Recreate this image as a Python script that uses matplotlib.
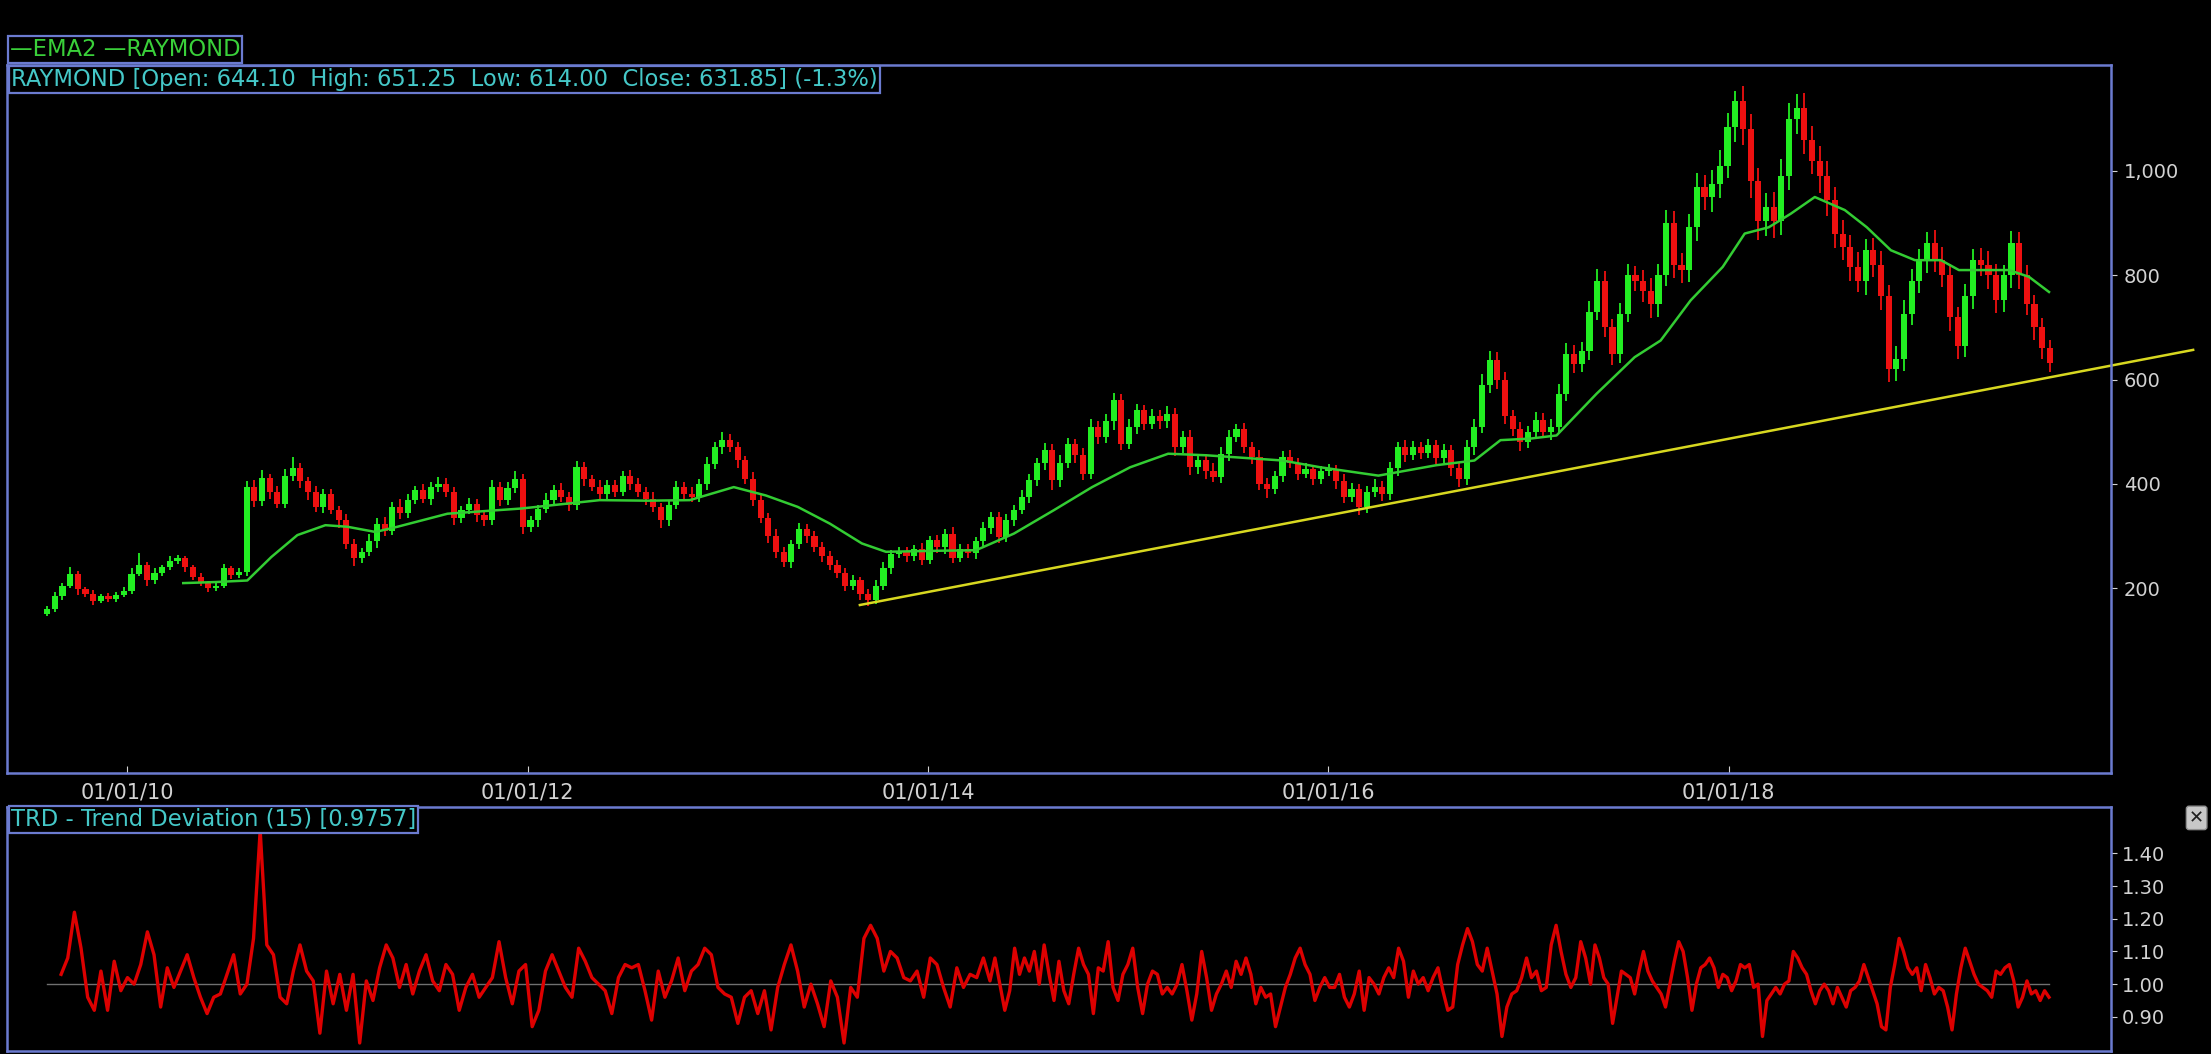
import numpy as np
import matplotlib
matplotlib.use("Agg")
from matplotlib import pyplot as plt

# biweekly closes of RAYMOND (first bar ~ Aug 2009)
close = [160, 185, 205, 228, 198, 190, 176, 185, 180, 188, 195, 228, 245, 215, 230, 240, 252, 258, 240, 222, 210, 200, 205, 238, 225, 232,
         395, 368, 412, 385, 362, 415, 430, 405, 385, 356, 381, 350, 330, 285, 258, 270, 290, 324, 310, 356, 345, 370, 388, 372, 394, 400,
         385, 335, 350, 362, 340, 330, 394, 370, 392, 410, 318, 330, 352, 370, 388, 375, 360, 432, 410, 395, 380, 398, 385, 416, 400, 385,
         372, 355, 330, 360, 394, 380, 375, 400, 439, 470, 484, 470, 445, 410, 370, 335, 300, 270, 250, 285, 314, 300, 280, 262, 245, 230,
         205, 215, 190, 177, 205, 238, 266, 270, 262, 275, 254, 292, 280, 305, 258, 275, 268, 290, 315, 337, 298, 330, 350, 375, 407, 440,
         465, 407, 440, 477, 455, 420, 509, 490, 520, 560, 477, 510, 541, 515, 530, 520, 535, 470, 490, 432, 445, 425, 413, 458, 490, 505,
         470, 452, 400, 390, 415, 452, 440, 420, 428, 410, 425, 426, 405, 375, 390, 356, 385, 395, 380, 430, 471, 455, 470, 460, 475, 450,
         465, 430, 410, 470, 509, 590, 637, 600, 530, 505, 480, 500, 522, 500, 510, 573, 650, 630, 655, 730, 790, 701, 650, 726, 800, 790,
         770, 745, 800, 900, 820, 810, 892, 969, 950, 975, 1010, 1084, 1135, 1080, 980, 905, 930, 905, 990, 1100, 1120, 1060, 1020, 990, 944, 880,
         854, 816, 790, 848, 820, 760, 620, 640, 726, 790, 830, 861, 830, 800, 720, 665, 760, 829, 820, 800, 752, 800, 861, 800, 745, 700,
         660, 632]
# wick lengths above the body top and below the body bottom
wick_up = [6, 8, 5, 12, 6, 4, 7, 5, 6, 4, 8, 10, 22, 6, 8, 5, 9, 6, 4, 5, 7, 4, 6, 8, 5, 6,
           10, 12, 15, 8, 12, 14, 22, 10, 8, 12, 9, 10, 8, 12, 10, 8, 14, 10, 12, 9, 15, 10, 8, 12, 10, 14,
           12, 10, 8, 12, 10, 9, 14, 10, 12, 15, 10, 9, 8, 12, 10, 14, 9, 12, 10, 8, 12, 10, 9, 8, 10, 12,
           10, 12, 9, 8, 12, 10, 14, 9, 12, 10, 15, 12, 10, 8, 12, 10, 9, 14, 10, 8, 12, 9, 10, 8, 9, 10,
           8, 10, 7, 9, 10, 12, 8, 9, 10, 8, 12, 9, 10, 8, 12, 9, 10, 8, 12, 10, 9, 12, 10, 14, 12, 10,
           14, 12, 15, 12, 10, 14, 16, 12, 14, 14, 12, 14, 12, 10, 14, 12, 15, 10, 12, 14, 10, 12, 15, 12, 14, 10,
           12, 10, 14, 12, 10, 12, 14, 10, 12, 9, 10, 12, 10, 14, 12, 10, 12, 14, 10, 12, 10, 14, 12, 10, 12, 10,
           12, 10, 12, 14, 16, 20, 18, 16, 14, 12, 14, 12, 16, 14, 15, 18, 20, 16, 18, 20, 22, 18, 16, 20, 22, 18,
           20, 24, 22, 26, 24, 22, 25, 28, 24, 26, 30, 28, 18, 28, 30, 26, 28, 30, 32, 30, 28, 30, 26, 28, 30, 26,
           26, 24, 28, 22, 24, 26, 22, 24, 26, 22, 20, 22, 26, 24, 22, 20, 24, 22, 24, 26, 22, 20, 24, 22, 20, 18, 18, 16]
wick_dn = [4, 6, 8, 5, 10, 6, 8, 5, 7, 6, 4, 6, 5, 10, 6, 7, 5, 6, 8, 6, 5, 7, 6, 5, 8, 6,
           8, 12, 10, 14, 9, 8, 10, 12, 15, 10, 12, 8, 14, 10, 16, 9, 8, 12, 10, 8, 12, 10, 9, 8, 12, 10,
           10, 14, 9, 8, 12, 10, 8, 12, 10, 9, 14, 10, 12, 8, 10, 9, 12, 10, 14, 9, 8, 12, 10, 9, 12, 10,
           12, 9, 14, 10, 8, 12, 10, 9, 12, 10, 12, 9, 14, 10, 12, 9, 14, 12, 10, 12, 9, 14, 10, 12, 9, 10,
           10, 8, 12, 10, 7, 9, 10, 8, 12, 9, 10, 8, 12, 14, 9, 8, 10, 12, 9, 10, 12, 9, 10, 8, 12, 10,
           14, 18, 12, 10, 14, 12, 10, 14, 12, 16, 12, 10, 14, 12, 10, 14, 12, 16, 10, 14, 12, 16, 10, 12, 14, 10,
           10, 14, 12, 16, 10, 12, 10, 12, 9, 12, 10, 10, 14, 12, 10, 16, 12, 10, 12, 10, 14, 12, 10, 12, 10, 12,
           10, 14, 16, 12, 14, 12, 16, 18, 16, 14, 16, 12, 14, 12, 16, 12, 14, 18, 16, 18, 16, 20, 22, 18, 16, 20,
           22, 26, 24, 20, 26, 24, 22, 26, 24, 28, 26, 24, 28, 30, 32, 38, 30, 34, 28, 26, 30, 28, 26, 32, 30, 28,
           24, 26, 22, 28, 24, 26, 24, 22, 24, 22, 24, 26, 24, 22, 26, 26, 22, 24, 22, 26, 24, 22, 24, 26, 22, 24, 20, 18]
first_open = 150
bar_start = 2009.60
bar_step = 14 / 365.25

# EMA line (decimal year, value)
ema_t = [2010.28, 2010.44, 2010.60, 2010.72, 2010.85, 2010.99, 2011.10, 2011.24, 2011.35, 2011.60, 2011.97, 2012.36, 2012.60,
         2012.81, 2013.03, 2013.19, 2013.35, 2013.51, 2013.67, 2013.79, 2014.05, 2014.24, 2014.43, 2014.63, 2014.82, 2015.01,
         2015.20, 2015.39, 2015.58, 2015.77, 2015.96, 2016.25, 2016.54, 2016.73, 2016.86, 2017.01, 2017.14, 2017.34, 2017.53,
         2017.66, 2017.81, 2017.97, 2018.08, 2018.20, 2018.31, 2018.43, 2018.58, 2018.69, 2018.81, 2018.93, 2019.06, 2019.15,
         2019.40, 2019.50, 2019.60]
ema_v = [210, 212, 215, 260, 302, 321, 318, 308, 318, 343, 353, 369, 368,
         369, 394, 378, 356, 324, 286, 270, 272, 273, 305, 350, 394, 432,
         458, 455, 450, 445, 432, 416, 436, 445, 484, 487, 493, 573, 643,
         675, 752, 816, 880, 892, 918, 950, 925, 892, 848, 829, 829, 810,
         810, 797, 768]

trend_t = [2013.66, 2020.32]
trend_v = [168, 657]

# TRD - Trend Deviation (15), three stretches of the chart
trd_bounds = [2009.67, 2014.31, 2017.31, 2019.60]
trd_a = [1.03, 1.08, 1.22, 1.11, 0.96, 0.92, 1.04, 0.92, 1.07, 0.98, 1.02, 1.00, 1.06, 1.16, 1.09, 0.93, 1.05, 0.99, 1.04, 1.09,
         1.02, 0.96, 0.91, 0.96, 0.97, 1.03, 1.09, 0.97, 1.00, 1.14, 1.47, 1.12, 1.09, 0.96, 0.94, 1.04, 1.12, 1.04, 1.01, 0.85,
         1.04, 0.94, 1.03, 0.92, 1.03, 0.82, 1.01, 0.95, 1.05, 1.12, 1.08, 0.99, 1.06, 0.97, 1.04, 1.09, 1.01, 0.98, 1.06, 1.03,
         0.92, 0.99, 1.03, 0.96, 0.99, 1.02, 1.13, 1.02, 0.94, 1.04, 1.06, 0.87, 0.92, 1.04, 1.09, 1.04, 0.99, 0.96, 1.11, 1.07,
         1.02, 1.00, 0.98, 0.91, 1.02, 1.06, 1.05, 1.06, 0.98, 0.89, 1.04, 0.96, 1.01, 1.08, 0.98, 1.04, 1.06, 1.11, 1.09, 0.99,
         0.97, 0.96, 0.88, 0.96, 0.98, 0.91, 0.98, 0.86, 0.99, 1.06, 1.12, 1.04, 0.93, 1.00, 0.94, 0.87, 1.01, 0.96, 0.82, 0.99,
         0.96, 1.14, 1.18, 1.14, 1.04, 1.10, 1.08, 1.02, 1.01, 1.04, 0.96, 1.08, 1.06, 0.99, 0.93, 1.05, 0.99, 1.03, 1.02, 1.08]
trd_b = [1.01, 1.08, 1.00, 0.92, 0.98, 1.11, 1.03, 1.08, 1.04, 1.10, 1.00, 1.12, 1.03, 0.95, 1.07, 0.98, 0.94, 1.03, 1.11, 1.06,
         1.03, 0.91, 1.05, 1.04, 1.13, 0.99, 0.95, 1.03, 1.06, 1.11, 0.99, 0.91, 1.00, 1.04, 1.03, 0.97, 0.99, 0.97, 1.00, 1.06,
         0.98, 0.89, 0.97, 1.10, 1.02, 0.92, 0.97, 1.00, 1.04, 0.99, 1.07, 1.03, 1.08, 1.03, 0.94, 0.99, 0.96, 0.97, 0.87, 0.93,
         0.99, 1.03, 1.08, 1.11, 1.06, 1.03, 0.95, 0.99, 1.02, 0.99, 0.99, 1.03, 0.96, 0.93, 0.97, 1.04, 0.92, 1.02, 1.00, 0.97,
         1.02, 1.05, 1.02, 1.11, 1.07, 0.96, 1.04, 1.00, 1.02, 0.98, 1.02, 1.05, 0.98, 0.92, 0.93, 1.06, 1.12, 1.17, 1.13, 1.06,
         1.04, 1.11, 1.04, 0.97, 0.84, 0.93, 0.97, 0.98, 1.02, 1.08, 1.02, 1.04, 0.98, 0.99, 1.12, 1.18, 1.10, 1.03, 0.99, 1.02,
         1.13, 1.08]
trd_c = [1.00, 1.12, 1.08, 1.02, 1.00, 0.88, 0.96, 1.04, 1.03, 1.02, 0.97, 1.04, 1.10, 1.04, 1.01, 0.99, 0.97, 0.93, 1.00, 1.07,
         1.13, 1.10, 1.02, 0.92, 1.00, 1.05, 1.06, 1.08, 1.05, 0.99, 1.03, 1.02, 0.98, 1.01, 1.06, 1.05, 1.06, 0.99, 1.00, 0.84,
         0.95, 0.97, 0.99, 0.97, 1.00, 1.01, 1.10, 1.08, 1.05, 1.03, 0.98, 0.94, 0.98, 1.00, 0.98, 0.94, 0.99, 0.96, 0.93, 0.98,
         0.99, 1.01, 1.06, 1.02, 0.98, 0.94, 0.87, 0.86, 0.99, 1.06, 1.14, 1.10, 1.05, 1.03, 1.05, 0.98, 1.06, 1.02, 0.97, 0.99,
         0.98, 0.93, 0.86, 0.97, 1.05, 1.11, 1.07, 1.03, 1.00, 0.99, 0.98, 0.96, 1.04, 1.03, 1.05, 1.06, 1.01, 0.93, 0.96, 1.01,
         0.97, 0.98, 0.95, 0.98, 0.96]

year_ticks = [2010, 2012, 2014, 2016, 2018]
year_labels = ["01/01/10", "01/01/12", "01/01/14", "01/01/16", "01/01/18"]
price_ticks = [200, 400, 600, 800, 1000]
trd_ticks = [0.90, 1.00, 1.10, 1.20, 1.30, 1.40]

BG = "black"
FRAME = "#6b7bd0"
TXT = "#d2d2d2"
CYAN = "#45c8c8"
UP = "#22ee22"
DOWN = "#ee1010"

plt.rcParams["font.family"] = ["DejaVu Sans"]
fig = plt.figure(figsize=(22.11, 10.54), dpi=100, facecolor=BG)
ax = fig.add_axes([0.0032, 0.2666, 0.9516, 0.6717], facecolor=BG)
ax2 = fig.add_axes([0.0032, 0.0033, 0.9516, 0.2314], facecolor=BG)

# candles
c = np.array(close, dtype=float)
o = np.r_[first_open, c[:-1]]
t = bar_start + bar_step * np.arange(len(c))
hi = np.maximum(o, c) + np.array(wick_up)
lo = np.minimum(o, c) - np.array(wick_dn)
up = c >= o
w = bar_step * 0.8
ax.vlines(t[up], lo[up], hi[up], color=UP, lw=1.3)
ax.vlines(t[~up], lo[~up], hi[~up], color=DOWN, lw=1.3)
ax.bar(t[up], np.maximum(c - o, 3)[up], bottom=o[up], width=w, color=UP, linewidth=0)
ax.bar(t[~up], np.maximum(o - c, 3)[~up], bottom=c[~up], width=w, color=DOWN, linewidth=0)

ax.plot(ema_t, ema_v, color="#33cc33", lw=1.8)
ax.plot(trend_t, trend_v, color="#d8d820", lw=1.8, clip_on=False)

ax.set_xlim(2009.40, 2019.91)
ax.set_ylim(-154, 1203)
ax.set_xticks(year_ticks)
ax.set_xticklabels(year_labels)
ax.set_yticks(price_ticks)
ax.set_yticklabels([f"{v:,}" for v in price_ticks])
ax.yaxis.tick_right()
ax.tick_params(axis="y", colors=TXT, labelsize=14, length=4, pad=5, direction="out")
ax.tick_params(axis="x", colors=TXT, labelsize=15, length=5, pad=7, direction="in")
for s in ax.spines.values():
    s.set_color(FRAME)
    s.set_linewidth(1.8)

ax.text(0.002, 0.996, "RAYMOND [Open: 644.10  High: 651.25  Low: 614.00  Close: 631.85] (-1.3%)",
        transform=ax.transAxes, ha="left", va="top", color=CYAN, fontsize=16.3,
        bbox=dict(boxstyle="square,pad=0.08", fc=BG, ec=FRAME, lw=1.6))
fig.text(0.0045, 0.953, "\u2014EMA2 \u2014RAYMOND", ha="left", va="center", color="#3ad03a", fontsize=16.3,
         bbox=dict(boxstyle="square,pad=0.08", fc=BG, ec=FRAME, lw=1.6))

# trend deviation panel
tt = np.concatenate([np.linspace(trd_bounds[i], trd_bounds[i + 1], len(seg), endpoint=(i == 2))
                     for i, seg in enumerate([trd_a, trd_b, trd_c])])
trd = np.concatenate([trd_a, trd_b, trd_c])
ax2.plot([tt[0] - 0.07, tt[-1]], [1.0, 1.0], color="#707070", lw=1)
ax2.plot(tt, trd, color="#dd0000", lw=2.4)
ax2.set_xlim(2009.40, 2019.91)
ax2.set_ylim(0.797, 1.543)
ax2.set_xticks([])
ax2.set_yticks(trd_ticks)
ax2.set_yticklabels([f"{v:.2f}" for v in trd_ticks])
ax2.yaxis.tick_right()
ax2.tick_params(axis="y", colors=TXT, labelsize=14, length=4, pad=4, direction="out")
for s in ax2.spines.values():
    s.set_color(FRAME)
    s.set_linewidth(1.8)
ax2.text(0.002, 0.995, "TRD - Trend Deviation (15) [0.9757]", transform=ax2.transAxes,
         ha="left", va="top", color=CYAN, fontsize=16.3,
         bbox=dict(boxstyle="square,pad=0.08", fc=BG, ec=FRAME, lw=1.6))
fig.text(0.9935, 0.224, "\u2715", ha="center", va="center", color="#202020", fontsize=13,
         bbox=dict(boxstyle="round,pad=0.15", fc="#c8c8c8", ec="#909090", lw=1))

fig.savefig("out.png", dpi=100, facecolor=BG)
